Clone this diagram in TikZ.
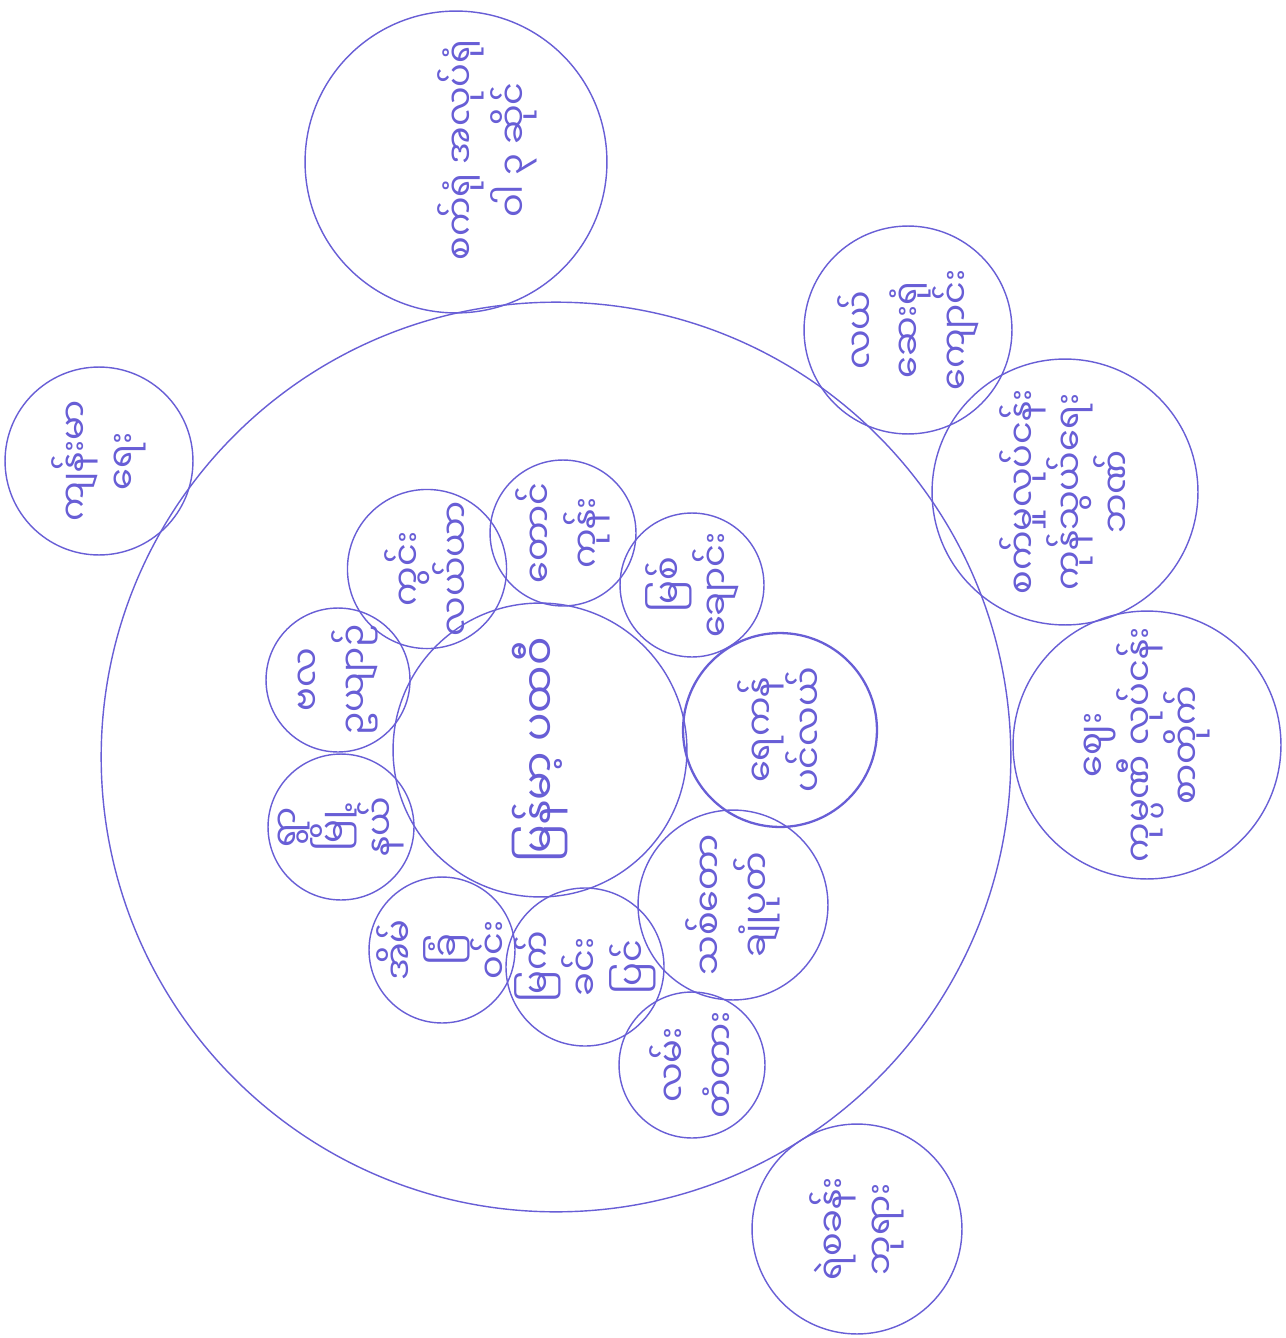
\documentclass[tikz,border=0pt]{standalone}
% NOTE ON LABELS: the handwritten text in the reference could not be read
% reliably (the script is taken to be Myanmar, but even that is uncertain).
% The labels below are PLACEHOLDERS of similar length and orientation,
% not transcriptions of the original text; replace them with the real text.
\usepackage{fontspec}
\newfontfamily\mya[Script=Myanmar]{Noto Sans Myanmar UI}
\definecolor{ink}{RGB}{104,94,214}
\tikzset{
  bub/.style={circle, draw=ink, line width=0.8pt, inner sep=0pt,
    minimum size=#1*0.04cm, text=ink, align=center, rotate=90,
    font=\mya\fontsize{20}{27}\selectfont},
  bigtxt/.style={font=\mya\fontsize{24}{30}\selectfont},
  freetxt/.style={rotate=90, text=ink, align=center,
    font=\mya\fontsize{20}{30}\selectfont}
}
\begin{document}
\begin{tikzpicture}[x=0.02cm, y=-0.02cm]
\fill[white] (0,0) rectangle (1285,1338);
\useasboundingbox (0,0) rectangle (1285,1338);
% outer ring and centre
\node[bub=455] (ring) at (556,757) {};
\node[bub=147, bigtxt] (core) at (540,750) {မြန်မာ့ ပထဝီ};
% petals (placeholder labels)
\node[bub=72] (p1) at (427,569) {ကွင်း\\ လယ်ယာ};
\node[bub=73] (p2) at (563,533) {တောင်\\ ကုန်း};
\node[bub=72] (p3) at (692,585) {မြစ်\\ ချောင်း};
\node[bub=97, line width=1.3pt] (p4) at (780,730) {ရေကန်\\ ပင်လယ်};
\node[bub=95] (p5) at (733,905) {သစ်တော\\ ချုံပုတ်};
\node[bub=73] (p6) at (585,967) {မြက်\\ ခင်း\\ ပြင်};
\node[bub=73] (p7) at (692,1065) {လမ်း\\ တံတား};
\node[bub=73] (p8) at (442,950) {အိမ်\\ ခြံ\\ ဝင်း};
\node[bub=73] (p9) at (341,827) {ရွာ\\ မြို့\\ နယ်};
\node[bub=72] (p10) at (338,680) {ဗလ\\ ဥယျာဉ်};
% outside circles (placeholder labels)
\node[bub=151] (top) at (456,162) {};
\node[freetxt] (toptxt) at (487,150) {စက်ရုံ အလုပ်ရုံ\\ ဝါ ၃ ဆိုင်};
\node[bub=94] (tl) at (99,461) {ကျန်းမာ\\ ရေး};
\node[bub=104] (r1) at (908,330) {လယ်\\ ဆေးရုံ\\ ကျောင်း};
\node[bub=133] (r2) at (1065,492) {စက်မှုလုပ်ငန်း\\ ကုန်သွယ်ရေး\\ ဘဏ်};
\node[bub=134] (r3) at (1147,745) {ဈေး\\ ကုမ္ပဏီ လုပ်ငန်း\\ စာတိုက်};
\node[bub=105] (br) at (857,1229) {ရဲစခန်း\\ ဘုရား};
\end{tikzpicture}
\end{document}
